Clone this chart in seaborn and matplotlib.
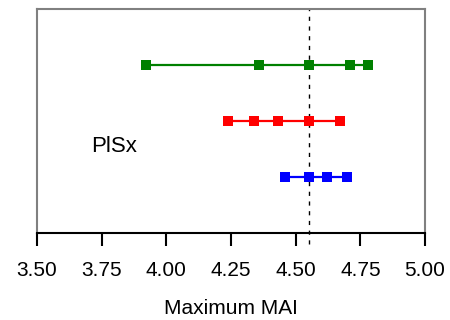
import matplotlib
matplotlib.use("Agg")
import matplotlib.pyplot as plt
import seaborn as sns
import pandas as pd

# Maximum MAI values for each group
green_vals = [3.92, 4.36, 4.55, 4.71, 4.78]
red_vals = [4.24, 4.34, 4.43, 4.55, 4.67]
blue_vals = [4.46, 4.55, 4.62, 4.70]
row_pos = {"green": 3, "red": 2, "blue": 1}
reference_mai = 4.55

xticks = [3.50, 3.75, 4.00, 4.25, 4.50, 4.75, 5.00]
tick_labels = [f"{t:.2f}" for t in xticks]

rows = []
for name, vals in [("green", green_vals), ("red", red_vals), ("blue", blue_vals)]:
    for v in vals:
        rows.append({"group": name, "mai": v, "row": row_pos[name]})
df = pd.DataFrame(rows)

sns.set_style("white")
plt.rcParams["font.family"] = ["Liberation Sans", "DejaVu Sans"]
plt.rcParams["text.color"] = "black"
plt.rcParams["axes.labelcolor"] = "black"
plt.rcParams["xtick.color"] = "black"

fig = plt.figure(figsize=(4.5, 3.2), dpi=100)
ax = fig.add_axes([37 / 450, 1 - 233 / 320, 388 / 450, 224 / 320])

sns.lineplot(data=df, x="mai", y="row", hue="group",
             palette={"green": "#008000", "red": "#ff0000", "blue": "#0000ff"},
             units="group", estimator=None, sort=True, marker="s",
             markersize=7.5, markeredgewidth=0, linewidth=1.6,
             legend=False, ax=ax)

ax.axvline(reference_mai, ymin=-0.05, ymax=1, color="black", linestyle=(0, (3, 4)),
           linewidth=1.0, clip_on=False, zorder=0)

ax.text(3.71, 1.55, "PlSx", fontsize=16, ha="left", va="center")

ax.set_xlim(3.5, 5.0)
ax.set_ylim(0, 4)
ax.set_xticks(xticks)
ax.set_xticklabels(tick_labels, fontsize=15)
ax.set_yticks([])
ax.set_ylabel("")
ax.set_xlabel("Maximum MAI", fontsize=15, labelpad=14)
ax.tick_params(axis="x", direction="out", length=9, width=1.5, pad=11,
               color="black", bottom=True)

for side in ["top", "left", "right"]:
    ax.spines[side].set_color("#808080")
    ax.spines[side].set_linewidth(1.5)
ax.spines["bottom"].set_color("black")
ax.spines["bottom"].set_linewidth(1.5)

fig.savefig("out.png", dpi=100)
